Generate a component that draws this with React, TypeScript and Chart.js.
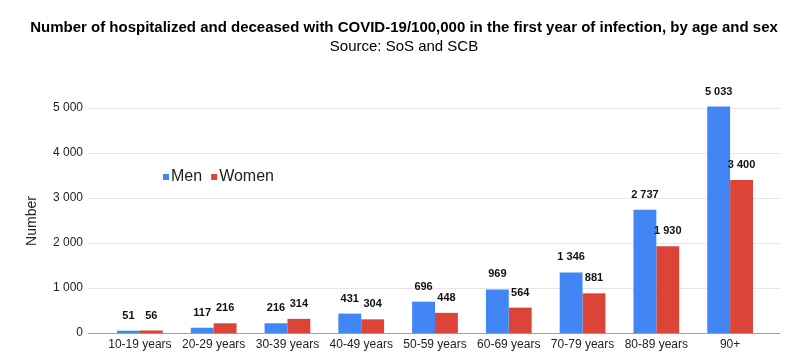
import React, { useEffect, useRef } from "react";
import { Chart, registerables } from "chart.js";

Chart.register(...registerables);

const categories = [
  "10-19 years",
  "20-29 years",
  "30-39 years",
  "40-49 years",
  "50-59 years",
  "60-69 years",
  "70-79 years",
  "80-89 years",
  "90+",
];
const men = [51, 117, 216, 431, 696, 969, 1346, 2737, 5033];
const women = [56, 216, 314, 304, 448, 564, 881, 1930, 3400];
const yTicks = [0, 1000, 2000, 3000, 4000, 5000];

const titleText =
  "Number of hospitalized and deceased with COVID-19/100,000 in the first year of infection, by age and sex";
const subtitleText = "Source: SoS and SCB";
const yTitle = "Number";
const FONT = "'Liberation Sans', Arial, Helvetica, sans-serif";

const BLUE = "#4285f4";
const RED = "#db4437";

function fmt(v: number): string {
  return String(Math.round(v)).replace(/\B(?=(\d{3})+(?!\d))/g, " ");
}

const decorPlugin = {
  id: "decor",
  beforeDatasetsDraw(chart: any) {
    const ctx = chart.ctx;
    const y = chart.scales.y;
    const area = chart.chartArea;
    ctx.save();
    yTicks.forEach((t) => {
      const py = Math.round(y.getPixelForValue(t)) + 0.5;
      ctx.strokeStyle = t === 0 ? "#9e9e9e" : "#e6e6e6";
      ctx.lineWidth = 1;
      ctx.beginPath();
      ctx.moveTo(area.left - 15, py);
      ctx.lineTo(area.right + 13, py);
      ctx.stroke();
    });
    ctx.restore();
  },
  afterDraw(chart: any) {
    const ctx = chart.ctx;
    const area = chart.chartArea;
    ctx.save();
    // title
    ctx.fillStyle = "#000";
    ctx.textAlign = "center";
    ctx.textBaseline = "middle";
    ctx.font = `bold 15px ${FONT}`;
    ctx.fillText(titleText, 404, 28);
    ctx.font = `15px ${FONT}`;
    ctx.fillText(subtitleText, 404, 47);
    // y title
    ctx.save();
    ctx.translate(32, 221);
    ctx.rotate(-Math.PI / 2);
    ctx.font = `14px ${FONT}`;
    ctx.fillStyle = "#222";
    ctx.fillText(yTitle, 0, 0);
    ctx.restore();
    // legend
    ctx.textAlign = "left";
    ctx.font = `16px ${FONT}`;
    const ly = 177;
    let lx = area.left + 60;
    chart.data.datasets.forEach((ds: any) => {
      ctx.fillStyle = ds.backgroundColor;
      ctx.fillRect(lx, ly - 3, 6, 6);
      ctx.fillStyle = "#222";
      ctx.fillText(ds.label, lx + 8, ly);
      lx += 8 + ctx.measureText(ds.label).width + 9;
    });
    // data labels
    ctx.font = `bold 11px ${FONT}`;
    ctx.textAlign = "center";
    ctx.fillStyle = "#111";
    chart.data.datasets.forEach((ds: any, i: number) => {
      const meta = chart.getDatasetMeta(i);
      meta.data.forEach((bar: any, j: number) => {
        ctx.fillText(fmt(ds.data[j]), bar.x, bar.y - 15);
      });
    });
    ctx.restore();
  },
};

export default function App() {
  const ref = useRef<HTMLCanvasElement>(null);
  useEffect(() => {
    document.body.style.margin = "0";
    const chart = new Chart(ref.current as HTMLCanvasElement, {
      type: "bar",
      data: {
        labels: categories,
        datasets: [
          { label: "Men", data: men, backgroundColor: BLUE, clip: false as any },
          { label: "Women", data: women, backgroundColor: RED, clip: false as any },
        ],
      },
      options: {
        animation: false,
        responsive: false,
        layout: { padding: { top: 108, right: 41, bottom: 0, left: 0 } },
        datasets: { bar: { barPercentage: 1, categoryPercentage: 0.62 } },
        plugins: {
          legend: { display: false },
          title: { display: false },
          tooltip: { enabled: false },
        },
        scales: {
          x: {
            grid: { display: false, drawTicks: false },
            border: { display: false },
            ticks: {
              color: "#222",
              font: { family: FONT, size: 12 },
              padding: 4,
              maxRotation: 0,
              autoSkip: false,
            },
            afterFit: (s: any) => {
              s.height = 30;
            },
          },
          y: {
            min: 0,
            max: 5000,
            grid: { display: false, drawTicks: false },
            border: { display: false },
            afterBuildTicks: (s: any) => {
              s.ticks = yTicks.map((v) => ({ value: v }));
            },
            ticks: {
              color: "#222",
              font: { family: FONT, size: 12 },
              padding: 20,
              callback: (v: any) => fmt(Number(v)),
            },
            afterFit: (s: any) => {
              s.width = 103;
            },
          },
        },
      },
      plugins: [decorPlugin],
    });
    return () => chart.destroy();
  }, []);
  return (
    <div style={{ width: 808, height: 363 }}>
      <canvas ref={ref} width={808} height={363} style={{ display: "block" }} />
    </div>
  );
}
